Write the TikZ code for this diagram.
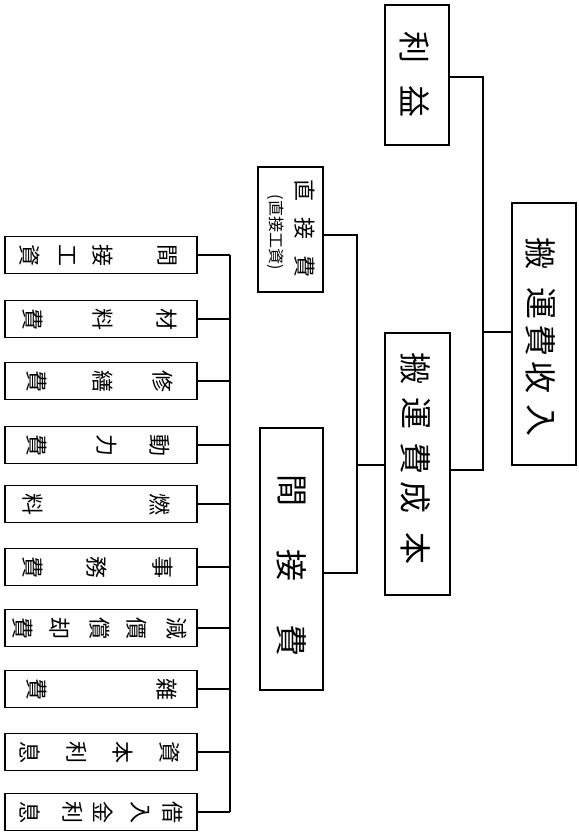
\documentclass[tikz,border=0pt]{standalone}
\usepackage{fontspec}
\newfontfamily\cjk{Noto Sans CJK JP}
\tikzset{
  box/.style={draw=black, line width=1.3pt, rectangle, inner sep=0pt},
  ch/.style={rotate=-90, font=\cjk\fontsize{22}{22}\selectfont, inner sep=0pt},
  bigch/.style={ch, font=\cjk\fontsize{32}{32}\selectfont},
  smallch/.style={ch, font=\cjk\fontsize{16}{16}\selectfont},
  ln/.style={line width=1.3pt},
}
\begin{document}
\begin{tikzpicture}[x=1pt,y=-1pt]
\useasboundingbox (0,0) rectangle (578,832);
% main boxes
\node[box, minimum width=64pt, minimum height=140pt] (li) at (417,75) {};
\node[box, minimum width=64pt, minimum height=262pt] (root) at (544,334) {};
\node[box, minimum width=65pt, minimum height=262pt] (cost) at (417.5,464) {};
\node[box, minimum width=65pt, minimum height=125pt] (dir) at (290.5,229.5) {};
\node[box, minimum width=63pt, minimum height=262pt] (ind) at (291.5,559) {};
% list boxes
\foreach \n/\y in {1/255,2/319,3/381,4/445,5/504,6/567,7/628,8/689,9/752,10/812}{
  \node[box, minimum width=192pt, minimum height=37pt] (L\n) at (101,\y) {};
}
% connectors
\coordinate (j1) at (483,77);
\coordinate (j2) at (483,470);
\coordinate (j3) at (483,332);
\draw[ln] (li.east |- j1) -- (j1) -- (j2) -- (cost.east |- j2);
\draw[ln] (j3) -- (root.west |- j3);
\coordinate (k1) at (357,235);
\coordinate (k2) at (357,573);
\coordinate (k3) at (357,465);
\draw[ln] (dir.east |- k1) -- (k1) -- (k2) -- (ind.east |- k2);
\draw[ln] (k3) -- (cost.west |- k3);
\coordinate (m1) at (230,255);
\coordinate (m2) at (230,812);
\draw[ln] (m1) -- (m2);
\foreach \n in {1,...,10}{
  \draw[ln] (L\n.east) -- (L\n.east -| m1);
}
% texts
\node[bigch] (t1) at (415,48) {利};
\node[bigch] (t2) at (415,102) {益};
\foreach \c/\y [count=\i] in {搬/253,運/303,費/340,收/377,入/420}{
  \node[bigch] (r\i) at (541,\y) {\c};
}
\foreach \c/\y [count=\i] in {搬/368,運/413,費/458,成/497,本/548}{
  \node[bigch] (c\i) at (416,\y) {\c};
}
\foreach \c/\y [count=\i] in {直/190,接/228,費/266}{
  \node[ch] (d\i) at (305,\y) {\c};
}
\node[smallch] (d0) at (276,232) {(直接工資)};
\foreach \c/\y [count=\i] in {間/490,接/565,費/640}{
  \node[bigch] (n\i) at (292,\y) {\c};
}
% list texts
\foreach \c/\x [count=\i] in {間/167,接/103,工/67,資/30}{\node[ch] (a\i) at (\x,255) {\c};}
\foreach \c/\x [count=\i] in {材/167,料/103,費/33}{\node[ch] (b\i) at (\x,319) {\c};}
\foreach \c/\x [count=\i] in {修/163,繕/103,費/37}{\node[ch] (e\i) at (\x,381) {\c};}
\foreach \c/\x [count=\i] in {動/160,力/107,費/37}{\node[ch] (f\i) at (\x,445) {\c};}
\foreach \c/\x [count=\i] in {燃/160,料/33}{\node[ch] (g\i) at (\x,504) {\c};}
\foreach \c/\x [count=\i] in {事/163,務/97,費/33}{\node[ch] (h\i) at (\x,567) {\c};}
\foreach \c/\x [count=\i] in {減/177,價/137,償/100,却/60,費/23}{\node[ch] (p\i) at (\x,628) {\c};}
\foreach \c/\x [count=\i] in {雜/167,費/37}{\node[ch] (q\i) at (\x,689) {\c};}
\foreach \c/\x [count=\i] in {資/170,本/123,利/77,息/30}{\node[ch] (s\i) at (\x,752) {\c};}
\foreach \c/\x [count=\i] in {借/173,入/140,金/103,利/73,息/30}{\node[ch] (u\i) at (\x,812) {\c};}
\end{tikzpicture}
\end{document}
